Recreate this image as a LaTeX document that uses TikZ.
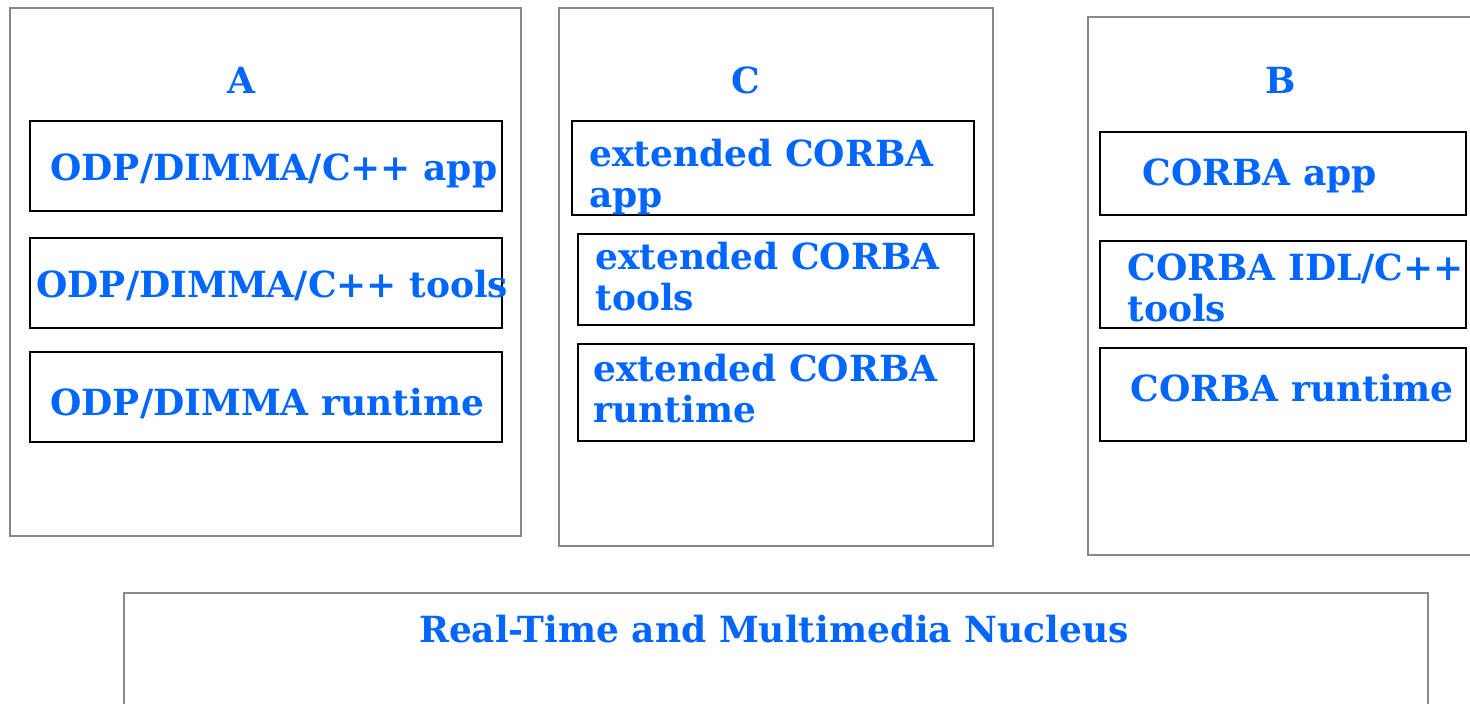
\documentclass[tikz,border=0pt]{standalone}
\usepackage{fontspec}
\setmainfont{DejaVu Serif}
\definecolor{labelblue}{HTML}{0066FF}
\definecolor{framegray}{HTML}{888888}

\begin{document}
\begin{tikzpicture}[x=0.5pt, y=-0.5pt,
    outer/.style={draw=framegray, line width=0.6pt},
    inner/.style={draw=black, line width=0.6pt},
    title/.style={text=labelblue, font=\bfseries\fontsize{18}{20.5}\selectfont,
      inner sep=0pt, anchor=base},
    label/.style={title, anchor=base west, align=left}]
  \useasboundingbox (0,0) rectangle (1470,703);
  \clip (0,0) rectangle (1470,703);

  % outer frames
  \draw[outer] (10,8) rectangle (521,536);
  \draw[outer] (559,8) rectangle (993,546);
  \draw[outer] (1088,17) rectangle (1480,555);
  \draw[outer] (124,593) rectangle (1428,720);

  % column A
  \node[title] (tA) at (241,93) {A};
  \draw[inner] (30,121) rectangle (502,211);
  \draw[inner] (30,238) rectangle (502,328);
  \draw[inner] (30,352) rectangle (502,442);
  \node[label] (aApp) at (50,180) {ODP/DIMMA/C++ app};
  \node[label] (aTools) at (36,297) {ODP/DIMMA/C++ tools};
  \node[label] (aRun) at (50,415) {ODP/DIMMA runtime};

  % column C
  \node[title] (tC) at (746,93) {C};
  \draw[inner] (572,121) rectangle (974,215);
  \draw[inner] (578,234) rectangle (974,325);
  \draw[inner] (578,344) rectangle (974,441);
  \node[label] (cApp) at (589,207) {extended CORBA\\app};
  \node[label] (cTools) at (595,310) {extended CORBA\\tools};
  \node[label] (cRun) at (593,422) {extended CORBA\\runtime};

  % column B
  \node[title] (tB) at (1281,93) {B};
  \draw[inner] (1100,132) rectangle (1466,215);
  \draw[inner] (1100,241) rectangle (1466,328);
  \draw[inner] (1100,348) rectangle (1466,441);
  \node[label] (bApp) at (1142,185) {CORBA app};
  \node[label] (bTools) at (1127,321) {CORBA IDL/C++\\tools};
  \node[label] (bRun) at (1130,401) {CORBA runtime};

  % nucleus
  \node[title] (nuc) at (774,642) {Real-Time and Multimedia Nucleus};
\end{tikzpicture}
\end{document}
